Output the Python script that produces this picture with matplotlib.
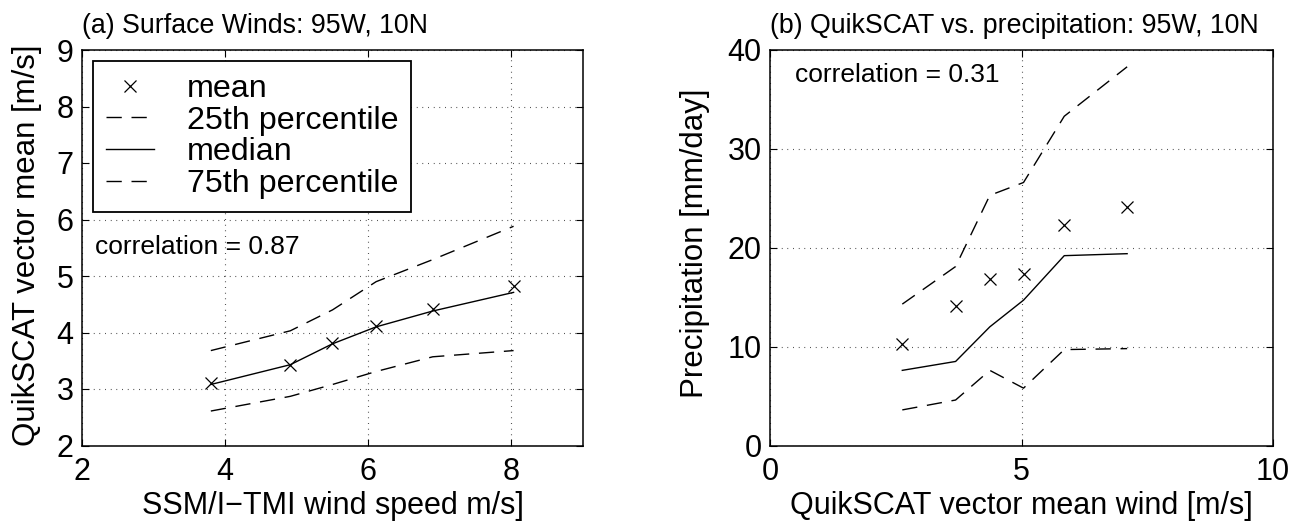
import matplotlib
matplotlib.use("Agg")
import matplotlib.pyplot as plt

# =========================
# 1. Data
# =========================
# (a) surface winds
ssmi_speed = [3.80, 4.91, 5.50, 6.11, 6.90, 8.03]
qs_mean = [3.10, 3.43, 3.82, 4.12, 4.42, 4.82]
qs_p25 = [2.61, 2.87, 3.08, 3.31, 3.57, 3.68]
qs_median = [3.08, 3.43, 3.80, 4.10, 4.38, 4.71]
qs_p75 = [3.68, 4.03, 4.40, 4.90, 5.29, 5.88]
corr_a = 0.87

# (b) QuikSCAT vs precipitation
qs_wind = [2.63, 3.69, 4.37, 5.04, 5.85, 7.10]
pr_mean = [10.3, 14.1, 16.8, 17.3, 22.3, 24.1]
pr_p25 = [3.6, 4.6, 7.6, 5.8, 9.7, 9.8]
pr_median = [7.6, 8.5, 12.0, 14.7, 19.2, 19.4]
pr_p75 = [14.3, 18.1, 25.3, 26.6, 33.3, 38.3]
corr_b = 0.31

# =========================
# 2. Style
# =========================
plt.rcParams["font.family"] = ["Liberation Sans", "DejaVu Sans"]
plt.rcParams["axes.linewidth"] = 1.1

DASH = (0, (11, 7))
GRID = dict(color="black", linestyle=(0, (0.6, 4.5)), linewidth=0.8)


def style_axes(ax):
    ax.tick_params(direction="in", length=5, width=0.8, top=True, right=True,
                   labelsize=22)
    ax.tick_params(axis="x", pad=8)
    ax.tick_params(axis="y", pad=6)
    ax.grid(True, **GRID)


fig = plt.figure(figsize=(13.05, 5.29), dpi=100)
ax1 = fig.add_axes([82 / 1305, 83.5 / 529, 501 / 1305, 395.5 / 529])
ax2 = fig.add_axes([770 / 1305, 83.5 / 529, 503 / 1305, 395.5 / 529])

# =========================
# 3. Panel (a)
# =========================
ax1.plot(ssmi_speed, qs_mean, "kx", markersize=8, markeredgewidth=0.9, label="mean")
ax1.plot(ssmi_speed, qs_p25, color="black", linestyle=DASH, linewidth=1.0,
         label="25th percentile")
ax1.plot(ssmi_speed, qs_median, color="black", linestyle="-", linewidth=1.0,
         label="median")
ax1.plot(ssmi_speed, qs_p75, color="black", linestyle=DASH, linewidth=1.0,
         label="75th percentile")
ax1.set_xlim(2, 9)
ax1.set_ylim(2, 9)
ax1.set_xticks([2, 4, 6, 8])
ax1.set_yticks(range(2, 10))
style_axes(ax1)
ax1.set_xlabel("SSM/I\u2212TMI wind speed m/s]", fontsize=22)
ax1.set_ylabel("QuikSCAT vector mean [m/s]", fontsize=22.5)
ax1.xaxis.set_label_coords(0.5, -0.115)
ax1.yaxis.set_label_coords(-0.08, 0.507)
ax1.text(0.0, 1.043, "(a) Surface Winds: 95W, 10N", transform=ax1.transAxes,
         fontsize=19.3, ha="left", va="baseline")
ax1.text(0.026, 0.502, f"correlation = {corr_a:.2f}", transform=ax1.transAxes,
         fontsize=19, ha="left", va="center")

leg = ax1.legend(loc="upper left", fontsize=23.2, fancybox=False, framealpha=1,
                 edgecolor="black", handlelength=1.5, handletextpad=1.0,
                 labelspacing=0.05, borderpad=0.4, borderaxespad=0.35)
leg.get_frame().set_linewidth(1.3)

# =========================
# 4. Panel (b)
# =========================
ax2.plot(qs_wind, pr_mean, "kx", markersize=8, markeredgewidth=0.9)
ax2.plot(qs_wind, pr_p25, color="black", linestyle=DASH, linewidth=1.0)
ax2.plot(qs_wind, pr_median, color="black", linestyle="-", linewidth=1.0)
ax2.plot(qs_wind, pr_p75, color="black", linestyle=DASH, linewidth=1.0)
ax2.set_xlim(0, 10)
ax2.set_ylim(0, 40)
ax2.set_xticks([0, 5, 10])
ax2.set_yticks([0, 10, 20, 30, 40])
style_axes(ax2)
ax2.set_xlabel("QuikSCAT vector mean wind [m/s]", fontsize=22)
ax2.set_ylabel("Precipitation [mm/day]", fontsize=22.5)
ax2.xaxis.set_label_coords(0.5, -0.115)
ax2.yaxis.set_label_coords(-0.119, 0.512)
ax2.text(0.0, 1.043, "(b) QuikSCAT vs. precipitation: 95W, 10N",
         transform=ax2.transAxes, fontsize=19.3, ha="left", va="baseline")
ax2.text(0.05, 0.937, f"correlation = {corr_b:.2f}", transform=ax2.transAxes,
         fontsize=19, ha="left", va="center")

fig.savefig("out.png", dpi=100)
